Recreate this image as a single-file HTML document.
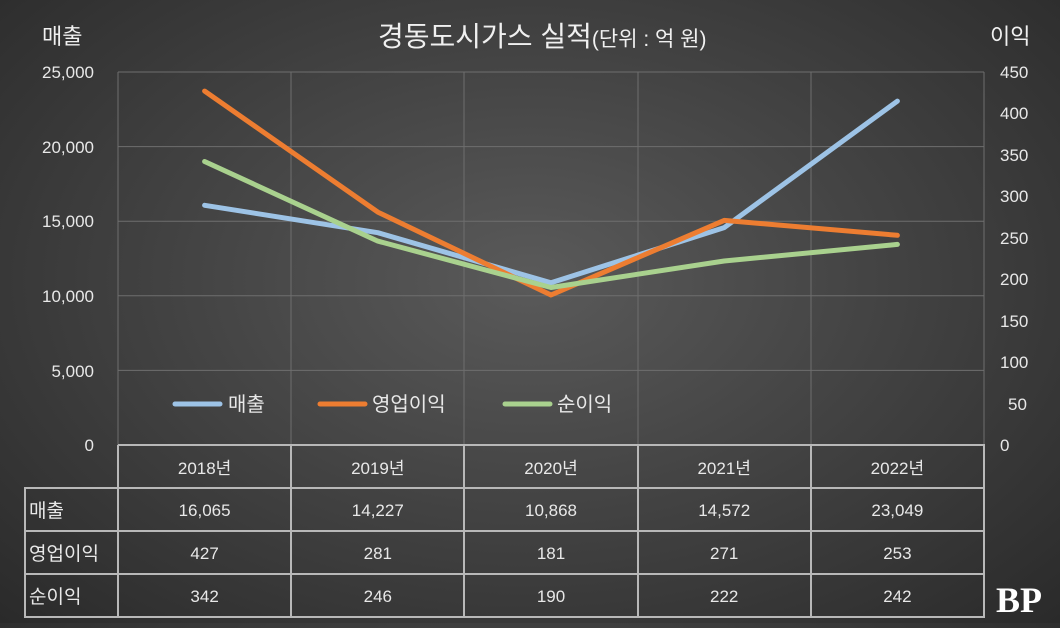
<!DOCTYPE html>
<html><head><meta charset="utf-8"><style>
html,body{margin:0;padding:0}
body{width:1060px;height:623px;overflow:hidden;background:radial-gradient(ellipse at 50% 45%,#5a5a5a 0%,#444 45%,#2a2a2a 100%);font-family:"Liberation Sans","Noto Sans CJK KR",sans-serif;}
svg text{font-family:"Liberation Sans","Noto Sans CJK KR",sans-serif;}
</style></head><body>
<svg width="1060" height="623" xmlns="http://www.w3.org/2000/svg">
<g stroke="#6e6e6e" stroke-width="1">
<line x1="118" y1="72" x2="984" y2="72"/>
<line x1="118" y1="146.6" x2="984" y2="146.6"/>
<line x1="118" y1="221.2" x2="984" y2="221.2"/>
<line x1="118" y1="295.8" x2="984" y2="295.8"/>
<line x1="118" y1="370.4" x2="984" y2="370.4"/>
<line x1="118" y1="72" x2="118" y2="445"/>
<line x1="291" y1="72" x2="291" y2="445"/>
<line x1="464" y1="72" x2="464" y2="445"/>
<line x1="638" y1="72" x2="638" y2="445"/>
<line x1="811" y1="72" x2="811" y2="445"/>
<line x1="984" y1="72" x2="984" y2="445"/>
</g>
<g stroke="#b8b8b8" stroke-width="2" fill="none">
<path d="M118 445H984V617H25V488H984M25 531H984M25 574H984"/>
<path d="M118 445V617M291 445V617M464 445V617M638 445V617M811 445V617"/>
</g>
<g fill="#e8e8e8" font-size="17" text-anchor="end">
<text x="94" y="78">25,000</text><text x="94" y="153">20,000</text><text x="94" y="227">15,000</text><text x="94" y="302">10,000</text><text x="94" y="377">5,000</text><text x="94" y="451">0</text>
</g>
<g fill="#e8e8e8" font-size="17" text-anchor="start">
<text x="1000" y="78">450</text><text x="1000" y="119">400</text><text x="1000" y="161">350</text><text x="1000" y="202">300</text><text x="1000" y="244">250</text><text x="1000" y="285">200</text><text x="1000" y="327">150</text><text x="1000" y="368">100</text><text x="1008" y="410">50</text><text x="1000" y="451">0</text>
</g>
<text x="42" y="44" fill="#f0f0f0" font-size="22">매출</text>
<text x="990" y="44" fill="#f0f0f0" font-size="22">이익</text>
<text x="378" y="46" fill="#f0f0f0" font-size="28">경동도시가스 실적<tspan font-size="21">(단위 : 억 원)</tspan></text>
<g fill="none" stroke-width="5" stroke-linecap="round" stroke-linejoin="round">
<polyline stroke="#9dc3e6" points="204.6,205.3 377.8,232.7 551,282.8 724.2,227.6 897.4,101.1"/>
<polyline stroke="#ed7d31" points="204.6,91.1 377.8,212.1 551,295 724.2,220.4 897.4,235.3"/>
<polyline stroke="#a9d18e" points="204.6,161.5 377.8,241.1 551,287.5 724.2,261 897.4,244.4"/>
<line stroke="#9dc3e6" x1="175" y1="404" x2="220" y2="404"/>
<line stroke="#ed7d31" x1="320" y1="404" x2="365" y2="404"/>
<line stroke="#a9d18e" x1="505" y1="404" x2="550" y2="404"/>
</g>
<g fill="#e8e8e8" font-size="20">
<text x="228" y="411">매출</text><text x="372" y="411">영업이익</text><text x="557" y="411">순이익</text>
</g>
<g fill="#e8e8e8" font-size="17" text-anchor="middle">
<text x="204.6" y="474">2018년</text><text x="377.8" y="474">2019년</text><text x="551" y="474">2020년</text><text x="724.2" y="474">2021년</text><text x="897.4" y="474">2022년</text>
<text x="204.6" y="516">16,065</text><text x="377.8" y="516">14,227</text><text x="551" y="516">10,868</text><text x="724.2" y="516">14,572</text><text x="897.4" y="516">23,049</text>
<text x="204.6" y="559">427</text><text x="377.8" y="559">281</text><text x="551" y="559">181</text><text x="724.2" y="559">271</text><text x="897.4" y="559">253</text>
<text x="204.6" y="602">342</text><text x="377.8" y="602">246</text><text x="551" y="602">190</text><text x="724.2" y="602">222</text><text x="897.4" y="602">242</text>
</g>
<g fill="#e8e8e8" font-size="19">
<text x="29" y="517">매출</text><text x="29" y="560">영업이익</text><text x="29" y="603">순이익</text>
</g>
<text x="996" y="612" fill="#ffffff" font-size="36" font-weight="bold" font-family="Liberation Serif,serif" style="font-family:'Liberation Serif',serif">BP</text>
</svg>
</body></html>
